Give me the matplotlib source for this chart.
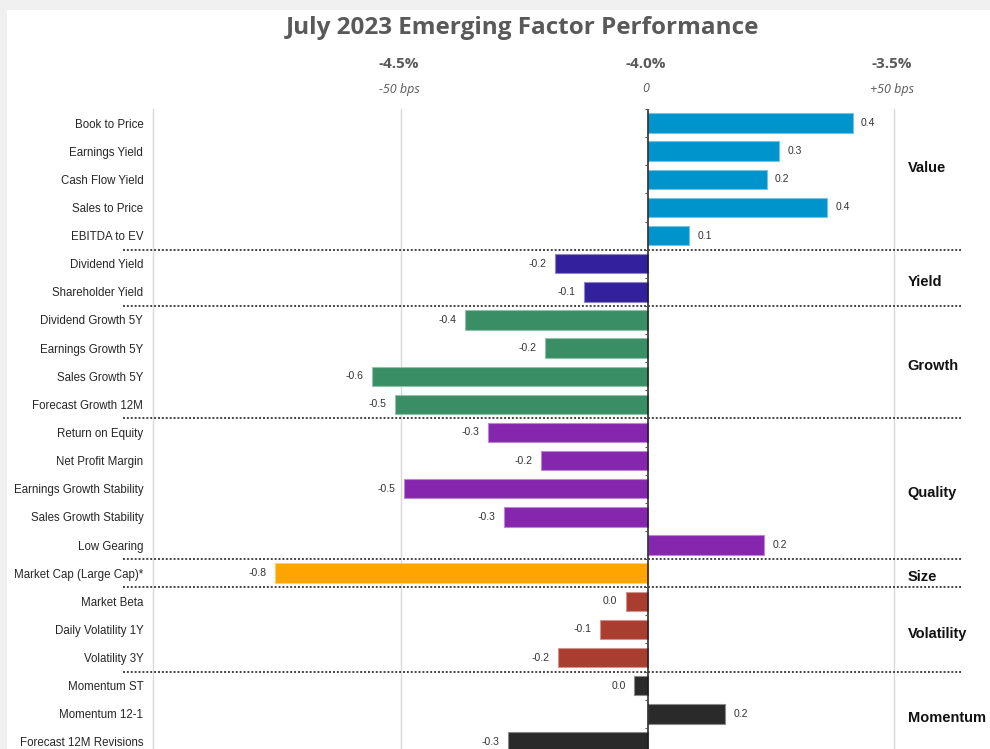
import matplotlib
matplotlib.use("Agg")
import matplotlib.pyplot as plt
from matplotlib import font_manager, transforms
from matplotlib.patches import Rectangle
import matplotlib.colors as mcolors

# ---------------- data ----------------
factors = [
    "Book to Price", "Earnings Yield", "Cash Flow Yield", "Sales to Price", "EBITDA to EV",
    "Dividend Yield", "Shareholder Yield",
    "Dividend Growth 5Y", "Earnings Growth 5Y", "Sales Growth 5Y", "Forecast Growth 12M",
    "Return on Equity", "Net Profit Margin", "Earnings Growth Stability",
    "Sales Growth Stability", "Low Gearing",
    "Market Cap (Large Cap)*",
    "Market Beta", "Daily Volatility 1Y", "Volatility 3Y",
    "Momentum ST", "Momentum 12-1", "Forecast 12M Revisions",
]
# active return vs. the -4.0% benchmark, in percentage points
values = [
    0.415, 0.266, 0.241, 0.363, 0.083,
    -0.189, -0.130,
    -0.371, -0.209, -0.560, -0.513,
    -0.325, -0.217, -0.495, -0.292, 0.235,
    -0.757,
    -0.045, -0.097, -0.183,
    -0.028, 0.156, -0.284,
]
groups = ["Value", "Yield", "Growth", "Quality", "Size", "Volatility", "Momentum"]
group_sizes = [5, 2, 4, 5, 1, 3, 3]
group_colors = ["#0094CC", "#33219B", "#3A8E65", "#8625AD", "#FFA400", "#A93D30", "#2A2A2A"]

benchmark = -4.0
tick_offsets = [-0.5, 0.0, 0.5]
tick_labels = ["-4.5%", "-4.0%", "-3.5%"]
bps_labels = ["-50 bps", "0", "+50 bps"]
title = "July 2023 Emerging Factor Performance"

# ---------------- fonts ----------------
avail = {f.name for f in font_manager.fontManager.ttflist}
def pick(*names):
    for n in names:
        if n in avail:
            return n
    return "DejaVu Sans"
body_font = pick("Liberation Sans", "Arial", "DejaVu Sans")
title_font = pick("Liberation Sans Narrow", "Open Sans", "Lato", "DejaVu Sans")
plt.rcParams["font.family"] = [body_font, "DejaVu Sans"]

W, H = 990, 749
fig = plt.figure(figsize=(W / 100, H / 100), dpi=100)
fig.patch.set_facecolor("#f0f0f0")
fig.patches.append(Rectangle((7 / W, 0), 1 - 7 / W, 1 - 10 / H, transform=fig.transFigure,
                             facecolor="white", edgecolor="none", zorder=-10))

ax_left, ax_right = 153, 963
ax_top, ax_bottom = 109, 756
ax = fig.add_axes([ax_left / W, 1 - ax_bottom / H, (ax_right - ax_left) / W, (ax_bottom - ax_top) / H])
ax.set_facecolor("none")

# colours per bar
bar_colors = []
for n, c in zip(group_sizes, group_colors):
    bar_colors += [c] * n

def lighten(c, f=0.45):
    r, g_, b = mcolors.to_rgb(c)
    return (r + (1 - r) * f, g_ + (1 - g_) * f, b + (1 - b) * f)

ypos = list(range(len(factors)))
ax.barh(ypos, values, height=0.69, color=bar_colors,
        edgecolor=[lighten(c) for c in bar_colors], linewidth=0.8, zorder=3)

ax.set_ylim(len(factors) - 0.5, -0.5)
ax.set_xlim(-1.004, 0.639)

# gridlines
for t in tick_offsets:
    if t != 0:
        ax.axvline(t, color="#d9d9d9", lw=1.0, zorder=1)
ax.axvline(0, color="#1a1a1a", lw=1.1, zorder=4)
# small ticks on zero axis
ax.hlines([i - 0.5 for i in range(len(factors))], -0.007, 0, color="#555555", lw=0.8, zorder=4)

for s in ["top", "right", "bottom"]:
    ax.spines[s].set_visible(False)
ax.spines["left"].set_color("#d9d9d9")
ax.spines["left"].set_linewidth(1.0)
ax.set_xticks([])
ax.set_yticks(ypos)
ax.set_yticklabels(factors, fontsize=8.3, color="#262626")
ax.tick_params(axis="y", length=0, pad=7)

# value labels
for y, v in zip(ypos, values):
    lab = f"{v:.1f}"
    if lab == "-0.0":
        lab = "0.0"
    ax.annotate(lab, (v, y), xytext=(6 if v >= 0 else -6, 0), textcoords="offset points",
                ha="left" if v >= 0 else "right", va="center", fontsize=7.5, color="#333333")

# separators and group labels
sep_tr = transforms.blended_transform_factory(ax.transAxes, ax.transData)
start = 0
for g, n in enumerate(group_sizes):
    center = start + (n - 1) / 2
    center += -0.42 if g == 0 else 0.15
    ax.text(0.527, center, groups[g], fontsize=10.5, fontweight="bold", color="#111111",
            ha="left", va="center")
    start += n
    if g < len(group_sizes) - 1:
        ax.plot([-0.037, 1.0], [start - 0.5, start - 0.5], transform=sep_tr,
                color="#444444", lw=1.4, linestyle=(0, (1, 1)), clip_on=False, zorder=5)

# top axis labels
tr = transforms.blended_transform_factory(ax.transData, fig.transFigure)
for t, l1, l2 in zip(tick_offsets, tick_labels, bps_labels):
    ax.text(t - 0.005, 1 - 64 / H, l1, transform=tr, ha="center", va="center",
            fontsize=11, color="#595959", fontfamily=title_font, fontweight="bold")
    ax.text(t - 0.005, 1 - 89 / H, l2, transform=tr, ha="center", va="center",
            fontsize=9, color="#595959", fontfamily=title_font, fontstyle="italic")

fig.text(522 / W, 1 - 28 / H, title, ha="center", va="center", fontsize=17.5,
         fontweight="bold", color="#595959", fontfamily=title_font)

fig.savefig("out.png", dpi=100, facecolor=fig.get_facecolor())
